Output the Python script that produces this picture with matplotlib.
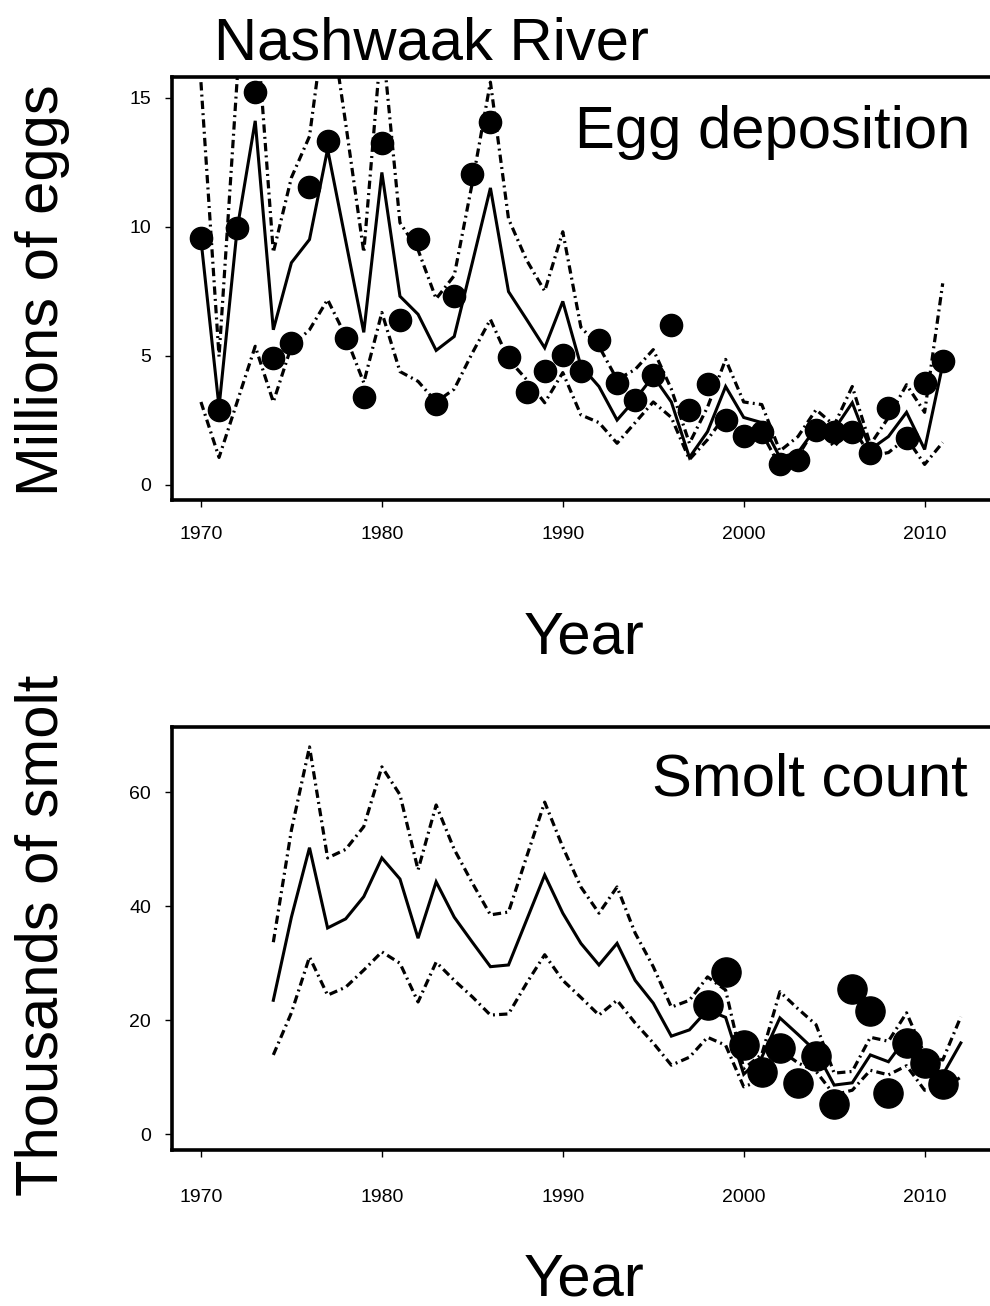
import matplotlib
matplotlib.use("Agg")
import matplotlib.pyplot as plt
import numpy as np

plt.rcParams['font.family'] = ['Liberation Sans', 'DejaVu Sans']
plt.rcParams['lines.scale_dashes'] = False

# ---------------- data ----------------
egg_years = list(range(1970, 2012))
egg_obs = [9.57, 2.9, 9.96, 15.2, 4.92, 5.5, 11.55, 13.33, 5.7, 3.41,
           13.26, 6.36, 9.53, 3.14, 7.29, 12.05, 14.07, 4.96, 3.57, 4.42,
           5.04, 4.42, 5.62, 3.95, 3.29, 4.26, 6.2, 2.9, 3.9, 2.52,
           1.9, 2.05, 0.78, 0.97, 2.13, 2.05, 2.05, 1.24, 2.98, 1.82,
           3.95, 4.77]
egg_med = [9.5, 3.0, 9.9, 14.1, 6.0, 8.6, 9.5, 13.0, 9.45, 5.9,
           12.1, 7.3, 6.6, 5.2, 5.74, 8.6, 11.5, 7.48, 6.4, 5.3,
           7.1, 4.6, 3.8, 2.5, 3.3, 4.2, 3.2, 1.05, 2.05, 3.8,
           2.6, 2.4, 1.05, 1.24, 2.2, 2.13, 3.17, 1.36, 1.86, 2.8,
           1.36, 4.65]
egg_hi = [15.6, 4.96, 15.7, 18.5, 9.0, 11.9, 13.5, 18.8, 14.0, 9.0,
          17.4, 10.15, 9.1, 7.2, 8.1, 11.7, 15.6, 10.3, 8.7, 7.5,
          9.8, 6.1, 5.36, 4.07, 4.46, 5.23, 3.7, 1.6, 3.0, 4.85,
          3.2, 3.1, 1.3, 1.86, 2.9, 2.3, 3.8, 1.55, 2.6, 3.87,
          2.8, 7.8]
egg_lo = [3.2, 1.05, 3.2, 5.36, 3.2, 5.36, 6.0, 7.17, 5.75, 3.95,
          6.67, 4.38, 4.0, 3.2, 3.7, 5.1, 6.4, 4.85, 4.07, 3.17,
          4.34, 2.7, 2.4, 1.6, 2.4, 3.2, 2.6, 0.97, 1.74, 2.7,
          2.0, 2.0, 0.7, 1.1, 2.25, 1.47, 2.25, 1.1, 1.24, 1.8,
          0.78, 1.63]

smolt_years = list(range(1974, 2013))
smolt_med = [23.5, 38.1, 50.3, 36.2, 37.8, 41.7, 48.5, 44.8, 34.4, 44.3,
             38.1, 33.7, 29.4, 29.7, 37.6, 45.5, 38.8, 33.5, 29.7, 33.5,
             27.0, 23.0, 17.2, 18.3, 21.8, 20.5, 10.5, 13.5, 20.4, 17.5,
             14.5, 8.6, 9.0, 13.9, 12.7, 17.0, 12.5, 10.4, 16.0]
smolt_hi = [33.7, 53.4, 68.0, 48.5, 50.0, 54.0, 64.5, 59.6, 46.4, 57.8,
            50.0, 44.1, 38.5, 39.0, 48.7, 58.3, 50.4, 43.4, 38.8, 43.4,
            35.3, 29.4, 22.3, 23.5, 27.6, 25.3, 11.5, 14.0, 25.0, 22.0,
            19.2, 10.7, 11.0, 17.0, 16.3, 21.3, 14.0, 13.0, 20.6]
smolt_lo = [13.9, 21.3, 31.1, 24.4, 25.8, 28.8, 32.0, 30.0, 23.2, 30.2,
            27.0, 24.1, 20.9, 21.1, 26.5, 31.5, 27.0, 24.0, 20.9, 23.5,
            19.5, 16.0, 12.1, 13.5, 17.0, 15.6, 8.3, 9.5, 14.8, 12.5,
            11.0, 6.9, 7.7, 11.2, 10.4, 12.0, 7.7, 8.0, 10.0]
smolt_obs_years = list(range(1998, 2012))
smolt_obs = [22.7, 28.5, 15.6, 10.9, 15.1, 9.0, 13.7, 5.3, 25.5, 21.6,
             7.2, 16.0, 12.5, 8.8]

x_ticks = [1970, 1980, 1990, 2000, 2010]
egg_yticks = [0, 5, 10, 15]
smolt_yticks = [0, 20, 40, 60]

# ---------------- figure ----------------
W, H = 990, 1306
fig = plt.figure(figsize=(W / 100, H / 100), dpi=100)

def px_rect(l, t, r, b):
    return [l / W, 1 - b / H, (r - l) / W, (b - t) / H]

ax1 = fig.add_axes(px_rect(172, 77, 997, 500))
ax2 = fig.add_axes(px_rect(172, 727, 997, 1150))

dd = (6, 3, 1.4, 3)

def style(ax, ylim, yticks, xpad):
    ax.set_xlim(1968.4, 2014.0)
    ax.set_ylim(*ylim)
    ax.set_xticks(x_ticks)
    ax.set_yticks(yticks)
    for s in ['left', 'bottom', 'top']:
        ax.spines[s].set_linewidth(2.6)
    ax.spines['right'].set_visible(False)
    ax.tick_params(axis='both', direction='out', length=5, width=1,
                   labelsize=14, colors='black')
    ax.tick_params(axis='x', pad=xpad)
    ax.tick_params(axis='y', pad=10)

# top panel
ax1.plot(egg_years, egg_hi, color='black', lw=2.3, dashes=dd)
ax1.plot(egg_years, egg_lo, color='black', lw=2.3, dashes=dd)
ax1.plot(egg_years, egg_med, color='black', lw=2.2, solid_joinstyle='miter')
ax1.plot(egg_years, egg_obs, 'o', color='black', ms=16, zorder=5)
style(ax1, (-0.6, 15.8), egg_yticks, 14)

# bottom panel
ax2.plot(smolt_years, smolt_hi, color='black', lw=2.3, dashes=dd)
ax2.plot(smolt_years, smolt_lo, color='black', lw=2.3, dashes=dd)
ax2.plot(smolt_years, smolt_med, color='black', lw=2.2, solid_joinstyle='miter')
ax2.plot(smolt_obs_years, smolt_obs, 'o', color='black', ms=21, zorder=5)
style(ax2, (-2.8, 71.5), smolt_yticks, 23)

big = 43
fig.text(431 / W, 1 - 60 / H, 'Nashwaak River', ha='center', va='baseline', fontsize=big)
fig.text(970 / W, 1 - 148 / H, 'Egg deposition', ha='right', va='baseline', fontsize=big)
fig.text(968 / W, 1 - 795 / H, 'Smolt count', ha='right', va='baseline', fontsize=big)
fig.text(584 / W, 1 - 653 / H, 'Year', ha='center', va='baseline', fontsize=big)
fig.text(584 / W, 1 - 1296 / H, 'Year', ha='center', va='baseline', fontsize=big)
fig.text(58 / W, 1 - 290 / H, 'Millions of eggs', ha='center', va='baseline',
         rotation=90, rotation_mode='anchor', fontsize=big)
fig.text(58 / W, 1 - 935 / H, 'Thousands of smolt', ha='center', va='baseline',
         rotation=90, rotation_mode='anchor', fontsize=big)

fig.savefig('out.png', dpi=100)
